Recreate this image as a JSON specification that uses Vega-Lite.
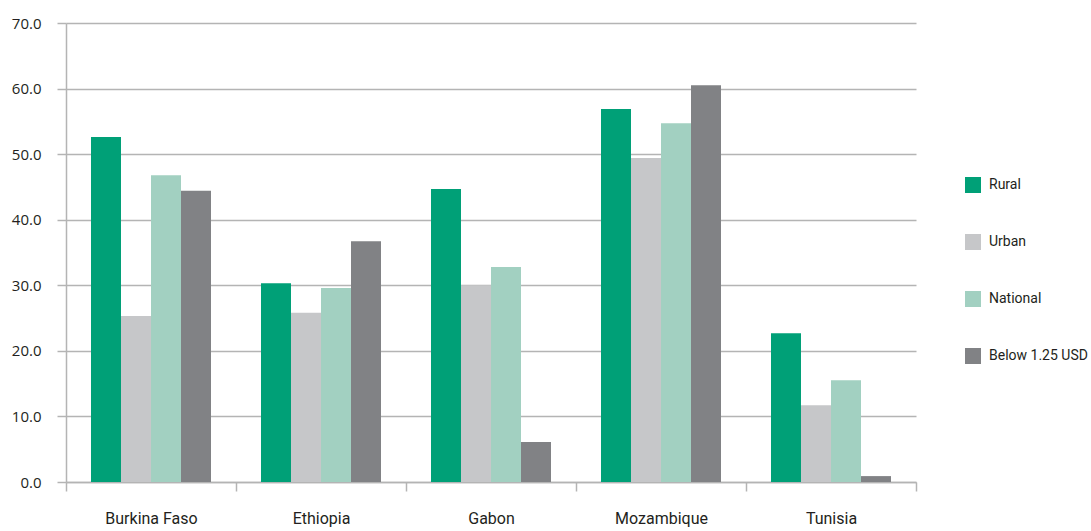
{
  "$schema": "https://vega.github.io/schema/vega-lite/v6.json",
  "autosize": "none",
  "padding": {"left": 66, "top": 23, "right": 175, "bottom": 49},
  "width": 850,
  "height": 459,
  "background": "white",
  "config": {"view": {"stroke": null}},
  "data": {
    "values": [
      {"country": "Burkina Faso", "series": "Rural", "value": 52.6},
      {"country": "Burkina Faso", "series": "Urban", "value": 25.3},
      {"country": "Burkina Faso", "series": "National", "value": 46.8},
      {"country": "Burkina Faso", "series": "Below 1.25 USD", "value": 44.4},
      {"country": "Ethiopia", "series": "Rural", "value": 30.3},
      {"country": "Ethiopia", "series": "Urban", "value": 25.8},
      {"country": "Ethiopia", "series": "National", "value": 29.6},
      {"country": "Ethiopia", "series": "Below 1.25 USD", "value": 36.7},
      {"country": "Gabon", "series": "Rural", "value": 44.7},
      {"country": "Gabon", "series": "Urban", "value": 30.0},
      {"country": "Gabon", "series": "National", "value": 32.8},
      {"country": "Gabon", "series": "Below 1.25 USD", "value": 6.1},
      {"country": "Mozambique", "series": "Rural", "value": 56.9},
      {"country": "Mozambique", "series": "Urban", "value": 49.4},
      {"country": "Mozambique", "series": "National", "value": 54.7},
      {"country": "Mozambique", "series": "Below 1.25 USD", "value": 60.5},
      {"country": "Tunisia", "series": "Rural", "value": 22.7},
      {"country": "Tunisia", "series": "Urban", "value": 11.7},
      {"country": "Tunisia", "series": "National", "value": 15.5},
      {"country": "Tunisia", "series": "Below 1.25 USD", "value": 0.9}
    ]
  },
  "mark": {"type": "bar"},
  "encoding": {
    "x": {
      "field": "country",
      "type": "nominal",
      "sort": ["Burkina Faso", "Ethiopia", "Gabon", "Mozambique", "Tunisia"],
      "scale": {"paddingInner": 0, "paddingOuter": 0},
      "axis": {
        "title": null,
        "labelAngle": 0,
        "tickBand": "extent",
        "tickSize": 9,
        "tickColor": "#b4b4b4",
        "tickWidth": 1.5,
        "domainColor": "#b4b4b4",
        "domainWidth": 1.5,
        "labelPadding": 19,
        "labelFont": "Roboto, sans-serif",
        "labelFontSize": 16,
        "labelColor": "#231f20",
        "grid": false
      }
    },
    "xOffset": {
      "field": "series",
      "sort": ["Rural", "Urban", "National", "Below 1.25 USD"],
      "scale": {"paddingInner": 0, "paddingOuter": 0.833}
    },
    "y": {
      "field": "value",
      "type": "quantitative",
      "scale": {"domain": [0, 70], "nice": false},
      "axis": {
        "title": null,
        "values": [0, 10, 20, 30, 40, 50, 60, 70],
        "format": ".1f",
        "grid": true,
        "gridColor": "#b4b4b4",
        "gridWidth": 1.5,
        "tickSize": 9,
        "tickColor": "#b4b4b4",
        "tickWidth": 1.5,
        "domainColor": "#b4b4b4",
        "domainWidth": 1.5,
        "labelPadding": 16,
        "labelFont": "Open Sans, sans-serif",
        "labelFontSize": 15,
        "labelColor": "#231f20"
      }
    },
    "color": {
      "field": "series",
      "type": "nominal",
      "sort": ["Rural", "Urban", "National", "Below 1.25 USD"],
      "scale": {
        "domain": ["Rural", "Urban", "National", "Below 1.25 USD"],
        "range": ["#00a077", "#c6c7c9", "#a2d0c1", "#818285"]
      },
      "legend": {
        "title": null,
        "orient": "none",
        "legendX": 899,
        "legendY": 154,
        "symbolType": "square",
        "symbolSize": 256,
        "symbolStrokeWidth": 0,
        "symbolOpacity": 1,
        "labelFont": "Roboto, sans-serif",
        "labelFontSize": 14,
        "labelColor": "#231f20",
        "labelOffset": 8,
        "rowPadding": 41,
        "labelLimit": 200
      }
    }
  }
}
